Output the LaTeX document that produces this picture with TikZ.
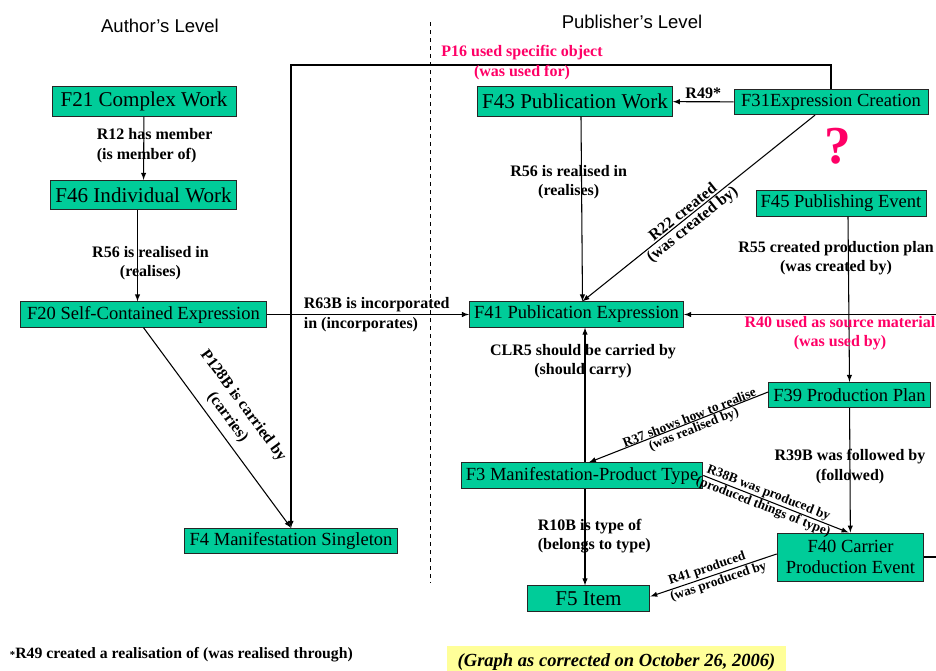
\documentclass[tikz,border=0pt]{standalone}
\usepackage{fontspec}
\setmainfont{Liberation Serif}
\setsansfont{Liberation Sans}
\usetikzlibrary{calc}
\definecolor{entgreen}{RGB}{0,204,153}
\definecolor{relpink}{RGB}{255,0,102}
\definecolor{noteyellow}{RGB}{255,255,153}
\tikzset{>=latex,
  ent/.style={draw=black!85,fill=entgreen,line width=0.7pt,inner xsep=3.5pt,inner ysep=0pt,
    minimum height=19pt,font=\fontsize{13.9}{15.8}\selectfont},
  bigent/.style={ent,minimum height=22pt,font=\fontsize{15.8}{18}\selectfont},
  lbl/.style={font=\bfseries\fontsize{12}{14.5}\selectfont,align=center,inner sep=1pt},
  smalllbl/.style={font=\bfseries\fontsize{10}{11}\selectfont,inner sep=1pt,sloped},
  level/.style={font=\sffamily\fontsize{13.9}{16}\selectfont}}

\begin{document}
\begin{tikzpicture}[x=0.75pt,y=-0.75pt,line width=0.8pt]
  \useasboundingbox (0,0) rectangle (936,671);
  \node [level] (authors) at (160,26) {Author’s Level};
  \node [level] (publishers) at (632,22) {Publisher’s Level};
  \draw [dashed,line width=0.6pt] (430,22) -- (430,583);

  % author's level
  \node [bigent,minimum width=138pt] (F21) at (144,101.5) {F21 Complex Work};
  \node [bigent] (F46) at (143.5,195) {F46 Individual Work};
  \node [ent,minimum width=185pt] (F20) at (143.5,314.5) {F20 Self-Contained Expression};
  \node [ent] (F4) at (291,541) {F4 Manifestation Singleton};

  % publisher's level
  \node [bigent] (F43) at (575,101.5) {F43 Publication Work};
  \node [ent,minimum width=145.5pt] (F31) at (831,102) {F31Expression Creation};
  \node [ent] (F45) at (841,203.5) {F45 Publishing Event};
  \node [ent] (F41) at (576.5,314.5) {F41 Publication Expression};
  \node [ent] (F39) at (849.5,395) {F39 Production Plan};
  \node [ent] (F3) at (582,475.5) {F3 Manifestation-Product Type};
  \node [ent,align=center,minimum width=110pt,minimum height=36pt] (F40) at (850.5,557) {F40 Carrier\\Production Event};
  \node [bigent,minimum width=92pt,minimum height=19pt] (F5) at (588.5,598.5) {F5 Item};

  \coordinate (p16) at (291,65);
  \coordinate (R40src) at (936,314.5);
  \coordinate (F40out) at (936,557);

  \path [->] (F21) edge (F46);
  \draw [->] ($(F46.south)+(-6,0)$) coordinate (r56a) -- (r56a |- F20.north);
  \path [->] (F20) edge (F41);
  \path [->] (F20.south) edge node [lbl,sloped,above,inner sep=5pt,pos=0.49] {P128B is carried by\\(carries)} (F4.north);
  \draw [->] (F31.north) |- (p16) -- (F4.north);
  \path [->] (F31) edge node [lbl,above,inner sep=2pt] {R49*} (F43);
  \path [->] ($(F43.south)+(6,0)$) edge ($(F41.north)+(6,0)$);
  \path [->] ($(F31.south)+(-16,0)$) edge
    node [lbl,sloped,above,pos=0.55] {R22 created}
    node [lbl,sloped,below,pos=0.55] {(was created by)} ($(F41.north)+(6,0)$);
  \path [->] ($(F45.south)+(7,0)$) edge (F39.north);
  \path [->] (F39) edge (F40);
  \path [->] (R40src) edge (F41.east);
  \path [->] ($(F3.north)+(3,0)$) edge ($(F41.south)+(8.5,0)$);
  \path [->] ($(F39.west)+(0,-3)$) edge
    node [smalllbl,above,inner sep=0pt,pos=0.43] {R37 shows how to realise}
    node [smalllbl,below,pos=0.43] {(was realised by)} ($(F3.north)+(7,0)$);
  \path [->] (F3.east) edge
    node [smalllbl,above,inner sep=0.5pt,pos=0.43] {R38B was produced by}
    node [smalllbl,below,inner sep=0.5pt,pos=0.43] {(produced things of type)} ($(F40.north)+(-2,0)$);
  \path [->] ($(F3.south)+(3,0)$) edge ($(F5.north)+(-3.5,0)$);
  \path [->] ($(F40.west)+(0,-3)$) edge
    node [smalllbl,above,pos=0.53] {R41 produced}
    node [smalllbl,below,pos=0.48] {(was produced by} ($(F5.east)+(0,-2)$);
  \path (F40.east) edge (F40out);

  % labels
  \node [lbl,align=left,anchor=west] (lR12) at (95,145.5) {R12 has member\\(is member of)};
  \node [lbl] (lR56a) at (150.5,263) {R56 is realised in\\(realises)};
  \node [lbl,align=left,anchor=west] (lR63) at (302,314.5) {R63B is incorporated\\in (incorporates)};
  \node [lbl,text=relpink] (lP16) at (522,62.5) {P16 used specific object\\(was used for)};
  \node [lbl] (lR56b) at (568.7,182) {R56 is realised in\\(realises)};
  \node [lbl] (lR55) at (836,258.5) {R55 created production plan\\(was created by)};
  \node [lbl,text=relpink] (lR40) at (840,333) {R40 used as source material\\(was used by)};
  \node [lbl] (lCLR5) at (583,361.5) {CLR5 should be carried by\\(should carry)};
  \node [lbl] (lR39) at (850,466.5) {R39B was followed by\\(followed)};
  \node [lbl,align=left,anchor=west] (lR10) at (536,536) {R10B is type of\\(belongs to type)};
  \node [text=relpink,font=\bfseries\fontsize{40}{40}\selectfont] (qmark) at (838,146) {?};

  \node [anchor=west,font=\bfseries\fontsize{11.8}{13}\selectfont] (note) at (5,655) {{\fontsize{8}{9}\selectfont*}R49 created a realisation of (was realised through)};
  \node [fill=noteyellow,minimum width=254pt,minimum height=24pt,font=\bfseries\itshape\fontsize{13.9}{16}\selectfont] (graphnote) at (616.5,662) {(Graph as corrected on October 26, 2006)};
\end{tikzpicture}
\end{document}
